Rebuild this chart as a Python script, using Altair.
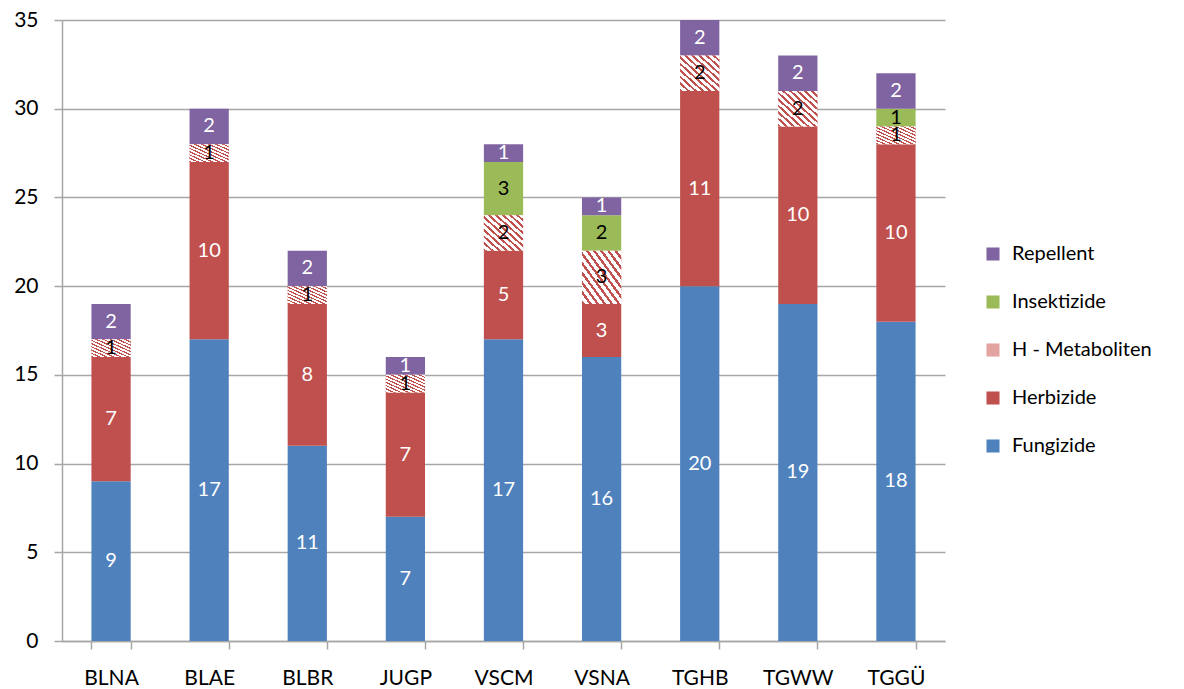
import altair as alt
import pandas as pd

sites = ["BLNA", "BLAE", "BLBR", "JUGP", "VSCM", "VSNA", "TGHB", "TGWW", "TGGÜ"]
fungizide = [9, 17, 11, 7, 17, 16, 20, 19, 18]
herbizide = [7, 10, 8, 7, 5, 3, 11, 10, 10]
metaboliten = [1, 1, 1, 1, 2, 3, 2, 2, 1]
insektizide = [0, 0, 0, 0, 3, 2, 0, 0, 1]
repellent = [2, 2, 2, 1, 1, 1, 2, 2, 2]

series = ["Fungizide", "Herbizide", "H - Metaboliten", "Insektizide", "Repellent"]
colors = ["#4F81BD", "#C0504D", "#E2A3A1", "#9BBB59", "#8064A2"]
text_colors = ["white", "white", "black", "black", "white"]

values = [fungizide, herbizide, metaboliten, insektizide, repellent]
rows = []
for si, (s, vals) in enumerate(zip(series, values)):
    for site, v in zip(sites, vals):
        rows.append({"site": site, "series": s, "value": v, "order": si,
                     "tcolor": text_colors[si]})
df = pd.DataFrame(rows)

FONT = "Lato"
GRID = "#A6A6A6"

# diagonal hatch via hard-stop linear gradient
n = 11
stops = []
for k in range(n):
    a = k / n
    b = (k + 0.4) / n
    c = (k + 1) / n
    stops += [alt.GradientStop(color="#C0504D", offset=a),
              alt.GradientStop(color="#C0504D", offset=b),
              alt.GradientStop(color="#FFFFFF", offset=b),
              alt.GradientStop(color="#FFFFFF", offset=c)]
hatch = alt.Gradient(gradient="linear", stops=stops, x1=0, y1=1, x2=1, y2=0)

base = alt.Chart(df).transform_stack(
    stack="value", groupby=["site"], sort=[alt.SortField("order")], as_=["y0", "y1"]
)

xenc = alt.X("site:N", sort=sites, title=None,
             scale=alt.Scale(paddingInner=0.6, paddingOuter=0.3),
             axis=alt.Axis(labelAngle=0, tickBand="extent", labelFont=FONT,
                           labelFontSize=21, labelColor="black", labelPadding=18,
                           tickSize=8, tickColor=GRID, tickWidth=1.5,
                           domainColor=GRID, domainWidth=1.5, grid=False))

yscale = alt.Scale(domain=[0, 35], nice=False)

bars = base.mark_bar().encode(
    x=xenc,
    y=alt.Y("y0:Q", title=None, scale=yscale,
            axis=alt.Axis(values=list(range(0, 36, 5)), labelFont=FONT,
                          labelFontSize=21, labelColor="black", labelPadding=16,
                          tickSize=8, tickColor=GRID, tickWidth=1.5,
                          domainColor=GRID, domainWidth=1.5,
                          gridColor=GRID, gridWidth=1.5)),
    y2="y1:Q",
    color=alt.Color("series:N",
                    scale=alt.Scale(domain=series[::-1], range=colors[::-1]),
                    legend=alt.Legend(title=None, orient="none", legendX=921, legendY=224,
                                      symbolType="square", symbolSize=170,
                                      symbolStrokeWidth=0, labelFont=FONT,
                                      labelFontSize=20, labelColor="black",
                                      labelOffset=9, rowPadding=28)),
)

hatched = base.transform_filter(
    (alt.datum.series == "H - Metaboliten") & (alt.datum.value > 0)
).mark_bar(fill=hatch).encode(
    x=alt.X("site:N", sort=sites),
    y=alt.Y("y0:Q", scale=yscale),
    y2="y1:Q",
)

labels = base.transform_filter(alt.datum.value > 0).transform_calculate(
    mid="(datum.y0 + datum.y1) / 2"
).mark_text(font=FONT, fontSize=20, baseline="middle", align="center").encode(
    x=alt.X("site:N", sort=sites),
    y=alt.Y("mid:Q", scale=yscale),
    text="value:Q",
    color=alt.Color("tcolor:N", scale=None),
)

chart = alt.layer(bars, hatched, labels).properties(
    width=883, height=621,
    padding={"left": 54, "top": 12, "right": 231, "bottom": 48},
    autosize=alt.AutoSizeParams(type="none"),
).configure_view(stroke=None)

chart.save("out.html", embed_options={"renderer": "svg", "actions": False})
